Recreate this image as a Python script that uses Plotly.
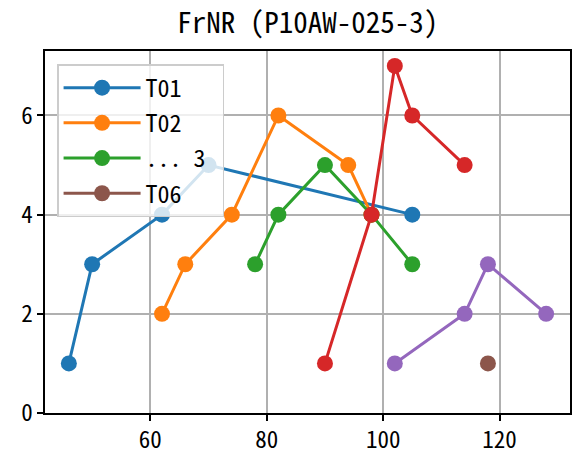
import plotly.graph_objects as go

# Data
t01_x = [46, 50, 62, 70, 105]
t01_y = [1, 3, 4, 5, 4]
t02_x = [62, 66, 74, 82, 94, 98]
t02_y = [2, 3, 4, 6, 5, 4]
t03_x = [78, 82, 90, 98, 105]
t03_y = [3, 4, 5, 4, 3]
t04_x = [90, 98, 102, 105, 114]
t04_y = [1, 4, 7, 6, 5]
t05_x = [102, 114, 118, 128]
t05_y = [1, 2, 3, 2]
t06_x = [118]
t06_y = [1]

series = [
    ("T01", t01_x, t01_y, "#1f77b4", True),
    ("T02", t02_x, t02_y, "#ff7f0e", True),
    ("...\u00a03\u00a0", t03_x, t03_y, "#2ca02c", True),
    ("T04", t04_x, t04_y, "#d62728", False),
    ("T05", t05_x, t05_y, "#9467bd", False),
    ("T06", t06_x, t06_y, "#8c564b", True),
]

FONT = "Noto Sans Mono CJK JP, Noto Sans CJK JP, monospace"

fig = go.Figure()
for i, (name, xs, ys, color, show) in enumerate(series):
    fig.add_trace(go.Scatter(
        x=xs, y=ys, name=name, mode="lines+markers",
        line=dict(color=color, width=3),
        marker=dict(color=color, size=16),
        showlegend=show, legendgroup=f"g{i}",
    ))

axis_common = dict(
    showgrid=True, gridcolor="#b0b0b0", gridwidth=1.5,
    showline=True, linecolor="black", linewidth=1.5, mirror=True,
    ticks="outside", ticklen=6, tickwidth=1.5, tickcolor="black",
    zeroline=False, automargin=False,
    tickfont=dict(family=FONT, size=23, color="black"),
)

fig.update_layout(
    width=572, height=457,
    margin=dict(l=45, r=2, t=51, b=44),
    paper_bgcolor="white", plot_bgcolor="white",
    title=dict(text="FrNR (P10AW-025-3)", x=0.538, xanchor="center",
               y=0.95, yanchor="middle",
               font=dict(family=FONT, size=29, color="black")),
    xaxis=dict(range=[41.9, 132.1], tickvals=[60, 80, 100, 120], **axis_common),
    yaxis=dict(range=[0, 7.3], tickvals=[0, 2, 4, 6], **axis_common),
    legend=dict(x=0.023, y=0.964, xanchor="left", yanchor="top",
                bgcolor="rgba(255,255,255,0.8)", bordercolor="#cccccc", borderwidth=1.5,
                font=dict(family=FONT, size=24, color="black"),
                tracegroupgap=1, itemwidth=77),
    showlegend=True,
)

# remove the default page margin so the 572x457 figure fills the window exactly
fig.write_html("out.html", config={"displayModeBar": False},
               post_script="document.body.style.margin='0';")
